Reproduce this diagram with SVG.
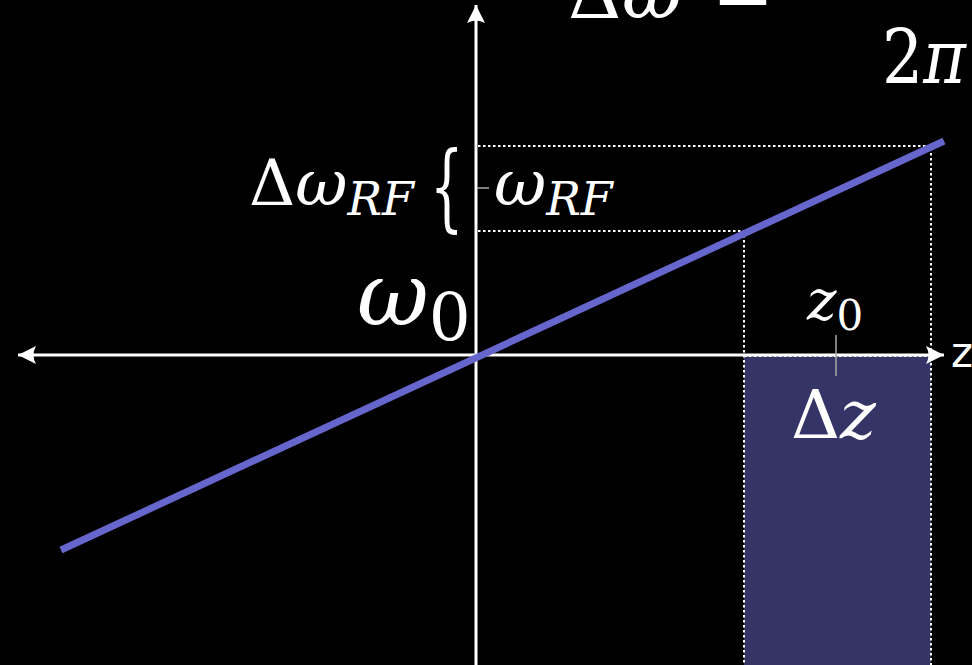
<svg xmlns="http://www.w3.org/2000/svg" width="972" height="665" viewBox="0 0 972 665">
<style>
.math{fill:#fff}
.it{font-style:italic}
.dot{stroke:#fff;stroke-width:2;stroke-dasharray:2.5 2.5;fill:none}
.axis{stroke:#fff;stroke-width:3;fill:none}
.tick{stroke:#aaa;stroke-width:1.5}
</style>
<defs>
<marker id="ah" viewBox="0 0 20 20" refX="18" refY="10" markerWidth="20" markerHeight="20" markerUnits="userSpaceOnUse" orient="auto-start-reverse">
<path d="M18,10 L0,1 Q5,10 0,19 Z" fill="#fff"/>
</marker>
</defs>
<rect width="972" height="665" fill="#000"/>
<g id="delta-z-band">
<rect x="744" y="356" width="187" height="309" fill="#343466"/>
</g>
<g id="connectors">
<path class="dot" d="M478,146 H931 V665"/>
<path class="dot" d="M478,231 H744 V665"/>
<path class="dot" d="M744,356 H931"/>
<path class="axis" d="M944,355 H18" marker-start="url(#ah)" marker-end="url(#ah)"/>
<path class="axis" d="M476,665 V5" marker-end="url(#ah)"/>
<line x1="61" y1="550" x2="944" y2="141" stroke="#6666cc" stroke-width="7"/>
<line class="tick" x1="836" y1="335" x2="836" y2="376"/>
<line class="tick" x1="477" y1="188" x2="489" y2="188"/>
</g>
<g font-family="DejaVu Serif, serif">
<g id="title">
<text class="math" x="568" y="18" font-size="74">Δ<tspan class="it" x="622">ω</tspan><tspan x="712">=</tspan></text>
<text class="math" x="882" y="83" font-size="74" textLength="84" lengthAdjust="spacingAndGlyphs">2<tspan class="it">π</tspan></text>
</g>
<g id="delta-omega-rf">
<text class="math" x="249" y="205" font-size="64">Δ<tspan class="it">ω</tspan><tspan class="it" font-size="46" dy="10">RF</tspan></text>
<text class="math" transform="translate(430,219) scale(0.55,1)" font-size="96">{</text>
</g>
<g id="omega-rf">
<text class="math it" x="494" y="205" font-size="64">ω<tspan font-size="46" dy="10">RF</tspan></text>
</g>
<g id="omega-0">
<text class="math" x="357" y="325" font-size="88"><tspan class="it">ω</tspan><tspan font-size="66" dy="15">0</tspan></text>
</g>
<g id="z0">
<text class="math" x="807" y="320" font-size="56"><tspan class="it">z</tspan><tspan font-size="42" dy="10">0</tspan></text>
</g>
<g id="delta-z">
<text class="math" x="791" y="438" font-size="68">Δ<tspan class="it">z</tspan></text>
</g>
</g>
<g id="z-label">
<text x="951" y="367" font-family="DejaVu Sans, sans-serif" font-size="42" fill="#fff">z</text>
</g>
</svg>
